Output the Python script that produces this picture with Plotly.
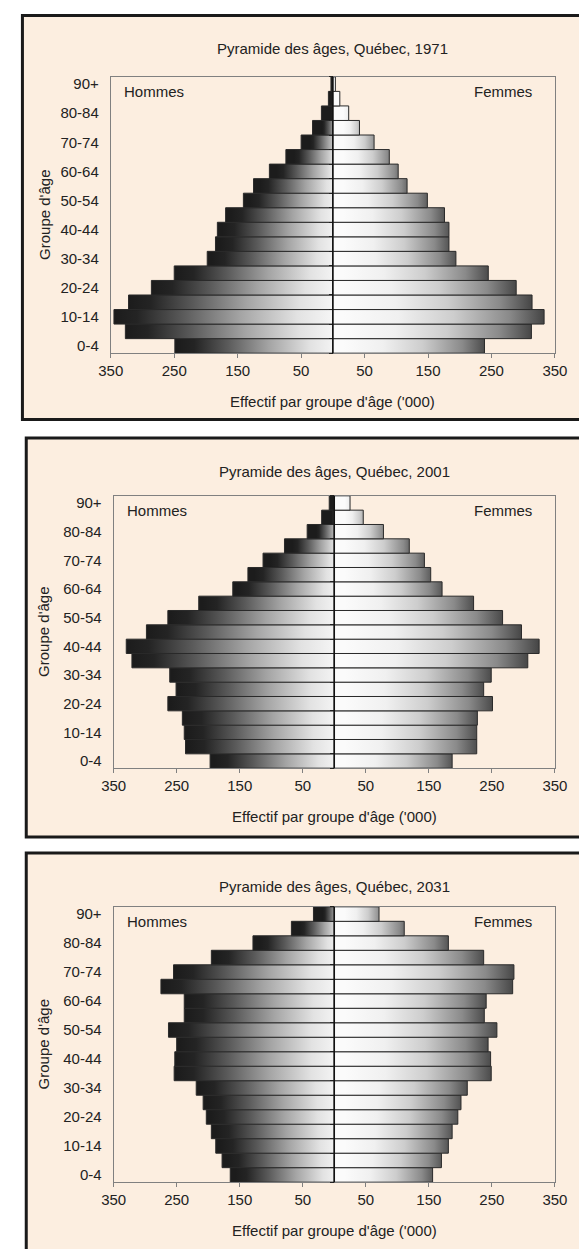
import plotly.graph_objects as go

# ---------------- data ----------------
age_groups = ["0-4", "5-9", "10-14", "15-19", "20-24", "25-29", "30-34", "35-39",
              "40-44", "45-49", "50-54", "55-59", "60-64", "65-69", "70-74",
              "75-79", "80-84", "85-89", "90+"]
tick_labels_y = ["0-4", "10-14", "20-24", "30-34", "40-44", "50-54", "60-64", "70-74", "80-84", "90+"]

years = ["1971", "2001", "2031"]

men_1971 = [249, 327, 345, 322, 286, 250, 198, 185, 182, 169, 141, 125, 100, 74, 50, 32, 18, 7, 3]
women_1971 = [239, 313, 333, 314, 289, 245, 194, 183, 183, 176, 149, 117, 103, 89, 65, 42, 25, 11, 4]

men_2001 = [197, 236, 238, 241, 264, 251, 261, 321, 330, 298, 264, 215, 161, 137, 113, 79, 43, 20, 8]
women_2001 = [187, 226, 226, 227, 251, 237, 249, 307, 325, 297, 267, 221, 171, 153, 143, 119, 78, 46, 25]

men_2031 = [165, 178, 188, 195, 203, 208, 219, 254, 253, 250, 263, 238, 238, 275, 255, 195, 129, 68, 33]
women_2031 = [156, 170, 181, 187, 196, 201, 211, 249, 248, 244, 258, 238, 241, 283, 285, 237, 181, 111, 71]

x_tick_vals = [-350, -250, -150, -50, 50, 150, 250, 350]
x_tick_text = ["350", "250", "150", "50", "50", "150", "250", "350"]

men = [men_1971, men_2001, men_2031]
women = [women_1971, women_2001, women_2031]

# ---------------- layout geometry (page pixels) ----------------
PAGE_W, PAGE_H = 587, 1249
OFF = 8                      # default body margin of the html page
W, H = PAGE_W - OFF, PAGE_H - OFF
FONT = "Liberation Sans, Arial, sans-serif"
panels = [
    dict(plot=(102, 567, 75, 352), box=(9.5, 13.5, 600, 418.5)),
    dict(plot=(105, 567, 495, 768), box=(13.5, 437, 600, 837)),
    dict(plot=(105, 567, 907, 1183), box=(13.5, 853, 600, 1270)),
]


def fx(p):
    return (p - OFF) / W


def fy(p):
    return 1 - (p - OFF) / H


male_scale = [[0, "#1c1c1c"], [0.1, "#242424"], [0.3, "#5a5a5a"], [0.55, "#a4a4a4"],
              [0.8, "#e2e2e2"], [1, "#fbfbfb"]]
female_scale = [[0, "#fbfbfb"], [0.25, "#f0f0f0"], [0.5, "#cdcdcd"], [0.75, "#8a8a8a"],
                [0.9, "#484848"], [1, "#242424"]]

fig = go.Figure()
shapes = []
annotations = []
layout_axes = {}
n = len(age_groups)

for k, (year, m_vals, f_vals, pan) in enumerate(zip(years, men, women, panels)):
    sfx = "" if k == 0 else str(k + 1)
    xa, ya = "x" + sfx, "y" + sfx
    ya_mid = "y" + str(k + 4)
    x0p, x1p, y0p, y1p = pan["plot"]
    bx0, by0, bx1, by1 = pan["box"]

    # panel background + frame
    shapes.append(dict(type="rect", xref="paper", yref="paper",
                       x0=fx(bx0), x1=fx(bx1), y0=fy(by1), y1=fy(by0),
                       fillcolor="#FCEEE0", line=dict(color="#1a1a1a", width=3),
                       layer="below"))

    # bars as gradient-filled polygons built from the data values
    for i, (age, mv, fv) in enumerate(zip(age_groups, m_vals, f_vals)):
        ylo, yhi = i - 0.5, i + 0.5
        fig.add_trace(go.Scatter(
            x=[0, -mv, -mv, 0, 0], y=[ylo, ylo, yhi, yhi, ylo],
            xaxis=xa, yaxis=ya, mode="lines", fill="toself",
            line=dict(color="#2a2a2a", width=1),
            fillgradient=dict(type="horizontal", colorscale=male_scale, start=-mv, stop=0),
            hoverinfo="text", text=f"Hommes {age}: {mv}", showlegend=False))
        fig.add_trace(go.Scatter(
            x=[0, fv, fv, 0, 0], y=[ylo, ylo, yhi, yhi, ylo],
            xaxis=xa, yaxis=ya, mode="lines", fill="toself",
            line=dict(color="#2a2a2a", width=1),
            fillgradient=dict(type="horizontal", colorscale=female_scale, start=0, stop=fv),
            hoverinfo="text", text=f"Femmes {age}: {fv}", showlegend=False))

    # invisible trace so that the centre axis (with its boundary ticks) is drawn
    fig.add_trace(go.Scatter(x=[None], y=[None], xaxis=xa, yaxis=ya_mid,
                             mode="markers", showlegend=False, hoverinfo="skip"))

    # centre line
    shapes.append(dict(type="line", xref=xa, yref=ya + " domain", x0=0, x1=0, y0=0, y1=1,
                       line=dict(color="#111111", width=1.5), layer="above"))

    layout_axes["xaxis" + sfx] = dict(
        domain=[fx(x0p), fx(x1p)], anchor=ya, range=[-350, 350],
        tickmode="array", tickvals=x_tick_vals, ticktext=x_tick_text,
        ticks="outside", ticklen=4, tickcolor="#808080",
        showline=True, linecolor="#808080", linewidth=1, mirror=True,
        showgrid=False, zeroline=False, fixedrange=True,
        tickfont=dict(family=FONT, size=15, color="#222222"))
    layout_axes["yaxis" + sfx] = dict(
        domain=[fy(y1p), fy(y0p)], anchor=xa, range=[-0.5, n - 0.5],
        tickmode="array", tickvals=[age_groups.index(t) for t in tick_labels_y],
        ticktext=tick_labels_y, ticks="", ticklabelstandoff=8,
        showline=True, linecolor="#808080", linewidth=1, mirror=True,
        showgrid=False, zeroline=False, fixedrange=True,
        tickfont=dict(family=FONT, size=15, color="#222222"))
    # category-boundary ticks on the centre (zero) line
    layout_axes["yaxis" + str(k + 4)] = dict(
        overlaying=ya, anchor="free", position=fx((x0p + x1p) / 2), side="left",
        range=[-0.5, n - 0.5], tickmode="array",
        tickvals=[i - 0.5 for i in range(n + 1)],
        ticks="outside", ticklen=4, tickwidth=1, tickcolor="#222222",
        showticklabels=False, showline=False, showgrid=False, zeroline=False,
        fixedrange=True)

    cx = (x0p + x1p) / 2
    annotations += [
        dict(text=f"Pyramide des âges, Québec, {year}", xref="paper", yref="paper",
             x=fx(cx), y=fy(by0 + 33.5), showarrow=False, xanchor="center", yanchor="middle",
             font=dict(family=FONT, size=15, color="#222222")),
        dict(text="Effectif par groupe d'âge ('000)", xref="paper", yref="paper",
             x=fx(cx), y=fy(y1p + 48), showarrow=False, xanchor="center", yanchor="middle",
             font=dict(family=FONT, size=15, color="#222222")),
        dict(text="Groupe d'âge", xref="paper", yref="paper", textangle=-90,
             x=fx(32), y=fy((y0p + y1p) / 2), showarrow=False, xanchor="center", yanchor="middle",
             font=dict(family=FONT, size=15, color="#222222")),
        dict(text="Hommes", xref="paper", yref="paper",
             x=fx(x0p + 12), y=fy(y0p + 15), showarrow=False, xanchor="left", yanchor="middle",
             font=dict(family=FONT, size=15, color="#222222")),
        dict(text="Femmes", xref="paper", yref="paper",
             x=fx(x1p - 22), y=fy(y0p + 15), showarrow=False, xanchor="right", yanchor="middle",
             font=dict(family=FONT, size=15, color="#222222")),
    ]

fig.update_layout(
    width=W, height=H, margin=dict(l=0, r=0, t=0, b=0),
    paper_bgcolor="white", plot_bgcolor="rgba(0,0,0,0)",
    shapes=shapes, annotations=annotations, showlegend=False,
    font=dict(family=FONT, size=15, color="#222222"),
    **layout_axes)

fig.write_html("out.html")
